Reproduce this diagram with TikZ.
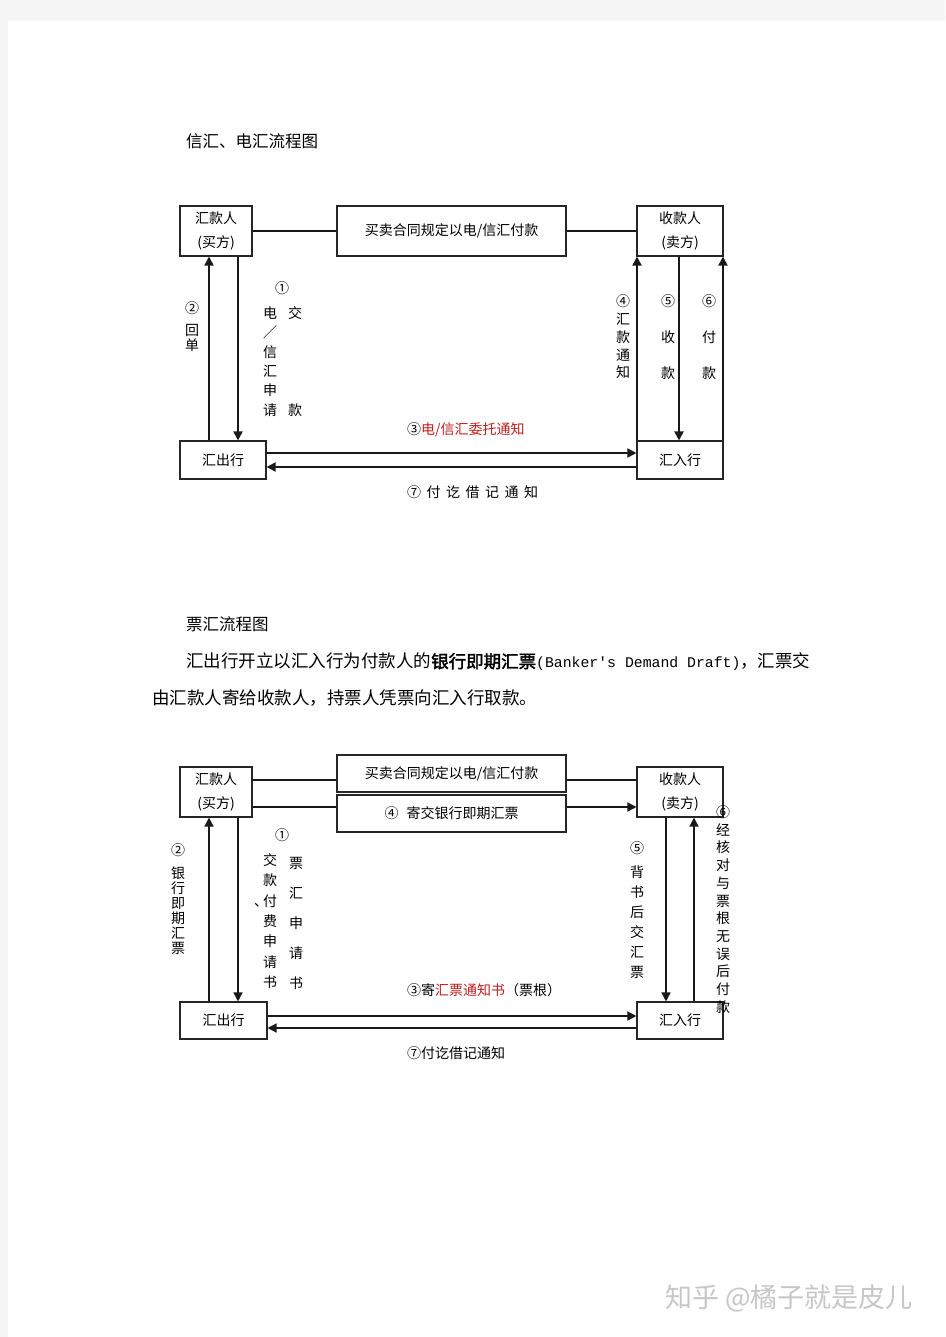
\documentclass[tikz,border=0pt]{standalone}
\usepackage{fontspec}
\setmainfont{Noto Sans CJK SC}
\newfontfamily\mono{Liberation Mono}
\newfontfamily\cjkb[FakeBold=2]{Noto Sans CJK SC}
\usetikzlibrary{arrows.meta,shadows}
\definecolor{myred}{RGB}{190,30,30}
\definecolor{pagegray}{RGB}{245,245,245}
\tikzset{
  box/.style={draw=black!85, line width=1.1pt, fill=white, inner sep=0pt,
    font=\fontsize{14}{24}\selectfont, align=center},
  bank/.style={box, drop shadow={shadow xshift=1.3pt, shadow yshift=-1.3pt, fill=black!80, opacity=1}},
  conn/.style={line width=1.8pt, draw=black!90},
  conn2/.style={line width=1.4pt, draw=black!90},
  arr/.style={-{Triangle[length=9pt,width=9pt]}},
  lbl/.style={inner sep=0pt, align=center, font=\fontsize{14}{17}\selectfont},
  vl/.style={inner sep=0pt, align=center, font=\fontsize{14}{#1}\selectfont},
  txt/.style={inner sep=0pt, anchor=west, font=\fontsize{17.5}{20}\selectfont},
}
\begin{document}
\begin{tikzpicture}[x=1pt,y=-1pt]
\useasboundingbox (0,0) rectangle (945,1337);
\fill[pagegray] (0,0) rectangle (945,1337);
\fill[white] (8,21) rectangle (945,1337);

% ---------- texts ----------
\node[txt, font=\fontsize{16.5}{20}\selectfont] (t1) at (186,141) {信汇、电汇流程图};
\node[txt, font=\fontsize{16.5}{20}\selectfont] (t2) at (186,624) {票汇流程图};
\node[txt] (p1) at (186,662) {汇出行开立以汇入行为付款人的{\cjkb 银行即期汇票}{\mono\fontsize{14.8}{20}\selectfont (Banker's Demand Draft)}，汇票交};
\node[txt] (p2) at (152,698) {由汇款人寄给收款人，持票人凭票向汇入行取款。};

% ---------- top diagram ----------
\node[box, minimum width=72pt, minimum height=50pt] (A1) at (216,231) {汇款人\\(买方)};
\node[box, minimum width=229pt, minimum height=50pt] (C1) at (451.5,231) {买卖合同规定以电/信汇付款};
\node[box, minimum width=86pt, minimum height=50pt] (S1) at (680,231) {收款人\\(卖方)};
\node[bank, minimum width=86pt, minimum height=38pt] (B1) at (223,460) {汇出行};
\node[bank, minimum width=86pt, minimum height=38pt] (R1) at (680,460) {汇入行};

\coordinate (xa) at (209,0);
\coordinate (xb) at (238,0);
\coordinate (xc) at (637,0);
\coordinate (xd) at (679,0);
\coordinate (xe) at (723,0);
\coordinate (y3) at (0,453);
\coordinate (y7) at (0,467);

\draw[conn] (A1.east) -- (C1.west);
\draw[conn] (C1.east) -- (S1.west);
\draw[conn,arr] (B1.north -| xa) -- (A1.south -| xa);
\draw[conn,arr] (A1.south -| xb) -- (B1.north -| xb);
\draw[conn,arr] (B1.east |- y3) -- (R1.west |- y3);
\draw[conn,arr] (R1.west |- y7) -- (B1.east |- y7);
\draw[conn,arr] (R1.north -| xc) -- (S1.south -| xc);
\draw[conn,arr] (S1.south -| xd) -- (R1.north -| xd);
\draw[conn,arr] (R1.north -| xe) -- (S1.south -| xe);

\node[vl=15] (l2t) at (192,326.5) {②\\[7pt]回\\单};
\node[lbl] (n1t) at (282,288) {①};
\node[vl=19.4] (l1ta) at (270,361.5) {电\\／\\信\\汇\\申\\请};
\node[lbl] (l1tb) at (295,313) {交};
\node[lbl] (l1tc) at (295,410) {款};
\node[lbl, anchor=west] (l3t) at (407,430) {③\textcolor{myred}{电/信汇委托通知}};
\node[lbl, anchor=west] (l7t) at (407,492) {⑦\hspace{5.5pt}付\hspace{5.5pt}讫\hspace{5.5pt}借\hspace{5.5pt}记\hspace{5.5pt}通\hspace{5.5pt}知};
\node[vl=17.7] (l4t) at (623,337) {④\\汇\\款\\通\\知};
\node[vl=36] (l5t) at (668,337) {⑤\\收\\款};
\node[vl=36] (l6t) at (709,337) {⑥\\付\\款};

% ---------- bottom diagram ----------
\node[box, minimum width=72pt, minimum height=50pt] (A2) at (216,792) {汇款人\\(买方)};
\node[box, minimum width=229pt, minimum height=37pt] (C2a) at (451.5,773.5) {\raisebox{-5pt}{买卖合同规定以电/信汇付款}};
\node[box, minimum width=229pt, minimum height=37pt] (C2b) at (451.5,813.5) {\raisebox{-5pt}{④\hspace{8pt}寄交银行即期汇票}};
\node[box, minimum width=86pt, minimum height=50pt] (S2) at (680,792) {收款人\\(卖方)};
\node[bank, minimum width=87pt, minimum height=37pt] (B2) at (223.5,1020.5) {汇出行};
\node[bank, minimum width=86pt, minimum height=37pt] (R2) at (680,1020.5) {汇入行};

\coordinate (l1) at (0,780);
\coordinate (l2) at (0,807);
\coordinate (xf) at (666,0);
\coordinate (xg) at (694,0);
\coordinate (y3b) at (0,1016);
\coordinate (y7b) at (0,1028);

\draw[conn2] (A2.east |- l1) -- (C2a.west |- l1);
\draw[conn2] (C2a.east |- l1) -- (S2.west |- l1);
\draw[conn2] (A2.east |- l2) -- (C2b.west |- l2);
\draw[conn2,arr] (C2b.east |- l2) -- (S2.west |- l2);
\draw[conn2,arr] (B2.north -| xa) -- (A2.south -| xa);
\draw[conn2,arr] (A2.south -| xb) -- (B2.north -| xb);
\draw[conn2,arr] (B2.east |- y3b) -- (R2.west |- y3b);
\draw[conn2,arr] (R2.west |- y7b) -- (B2.east |- y7b);
\draw[conn2,arr] (S2.south -| xf) -- (R2.north -| xf);
\draw[conn2,arr] (R2.north -| xg) -- (S2.south -| xg);

\node[vl=15] (l2b) at (178,899) {②\\[8pt]银\\行\\即\\期\\汇\\票};
\node[lbl] (n1b) at (282,835) {①};
\node[vl=20.3] (l1ba) at (270,921) {交\\款\\\llap{、\kern-5pt}付\\费\\申\\请\\书};
\node[vl=30] (l1bb) at (296,923) {票\\汇\\申\\请\\书};
\node[lbl, anchor=west] (l3b) at (407,990) {③寄\textcolor{myred}{汇票通知书}（票根）};
\node[lbl, anchor=west] (l7b) at (407,1053) {⑦付讫借记通知};
\node[vl=20] (l5b) at (637,910) {⑤\\[4pt]背\\书\\后\\交\\汇\\票};
\node[vl=17.7] (l6b) at (723,909.5) {⑥\\经\\核\\对\\与\\票\\根\\无\\误\\后\\付\\款};

% ---------- watermark ----------
\node[inner sep=0pt, anchor=west, text=black!22, font=\fontsize{27}{30}\selectfont] (wm) at (665,1298) {知乎 @橘子就是皮儿};
\end{tikzpicture}
\end{document}
